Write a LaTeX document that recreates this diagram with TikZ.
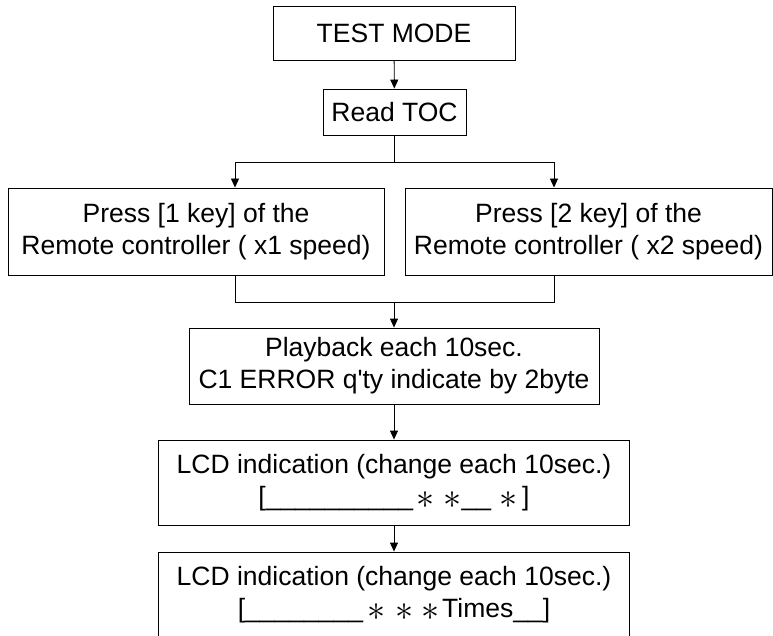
\documentclass[tikz,border=0pt]{standalone}
\usepackage{graphicx}
\usepackage{fontspec}
\setmainfont{Liberation Sans}
\usetikzlibrary{arrows.meta}
\tikzset{
  boxnode/.style={draw, line width=0.9pt, inner sep=0pt, align=center,
    font=\fontsize{26.5}{32}\selectfont},
  link/.style={line width=0.9pt},
  arr/.style={line width=0.9pt, -{Triangle[length=9pt,width=8pt]}}
}
\newcommand{\myast}{\raisebox{-3pt}{\scalebox{1.45}{$\ast$}}}
\newcommand{\us}{\_}
\begin{document}
\begin{tikzpicture}[x=1pt,y=-1pt]
\useasboundingbox (0,0) rectangle (773,636);
\node[boxnode, minimum width=242pt, minimum height=54pt] (tm) at (394,33) {TEST MODE};
\node[boxnode, minimum width=143pt, minimum height=46pt] (toc) at (394.5,112) {Read TOC};
\node[boxnode, minimum width=376pt, minimum height=87pt] (k1) at (196,231.5) {Press [1 key] of the\\Remote controller ( x1 speed)};
\node[boxnode, minimum width=367pt, minimum height=87pt] (k2) at (588.5,231.5) {Press [2 key] of the\\Remote controller ( x2 speed)};
\node[boxnode, minimum width=410pt, minimum height=76pt] (pb) at (394,366) {Playback each 10sec.\\C1 ERROR q\textquotesingle ty indicate by 2byte};
\node[boxnode, minimum width=471pt, minimum height=85pt] (l1) at (394,482.5) {LCD indication (change each 10sec.)\\{}[\us\us\us\us\us\us\us\us\us\us\hspace{3.5pt}\myast\hspace{9pt}\myast\us\us\hspace{8.5pt}\myast\hspace{4.5pt}]};
\node[boxnode, minimum width=471pt, minimum height=85pt] (l2) at (394,594.5) {LCD indication (change each 10sec.)\\{}[\us\us\us\us\us\us\us\us\hspace{4pt}\myast\hspace{10pt}\myast\hspace{8pt}\myast\hspace{3pt}Times\us\us]};
\coordinate (sp) at (394.5,162);
\coordinate (a1) at (235,162);
\coordinate (a2) at (554,162);
\coordinate (b1) at (235,302);
\coordinate (b2) at (554,302);
\coordinate (jn) at (394,302);
\draw[arr] (tm) -- (toc);
\draw[link] (toc) -- (sp);
\draw[link] (a1) -- (a2);
\draw[arr] (a1) -- (a1 |- k1.north);
\draw[arr] (a2) -- (a2 |- k2.north);
\draw[link] (b1 |- k1.south) -- (b1) -- (b2) -- (b2 |- k2.south);
\draw[arr] (jn) -- (jn |- pb.north);
\draw[arr] (pb) -- (l1);
\draw[arr] (l1) -- (l2);
\end{tikzpicture}
\end{document}
